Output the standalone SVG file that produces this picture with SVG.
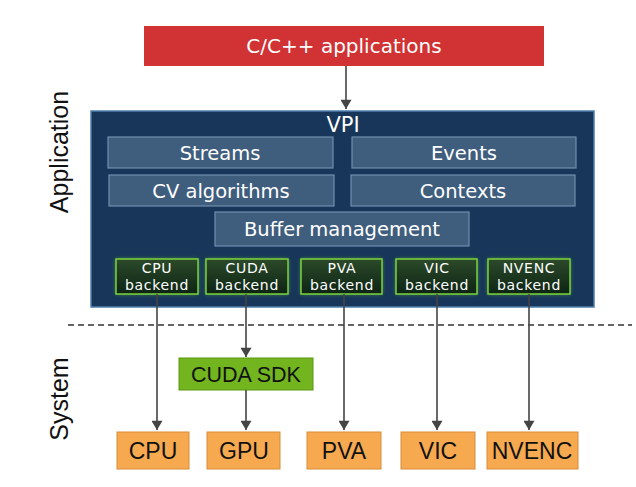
<svg xmlns="http://www.w3.org/2000/svg" width="636" height="487" viewBox="0 0 636 487">
<style>
text{font-family:"Liberation Sans",Arial,sans-serif;text-anchor:middle;dominant-baseline:central}
.dv{font-family:"DejaVu Sans","Liberation Sans",sans-serif}
.mod{fill:#3f5e7e;stroke:#7090b0;stroke-width:1.2}
.mt{fill:#ffffff;font-size:19.5px}
.be{fill:url(#gb);stroke:#7cd23c;stroke-width:1.5}
.bt{fill:#ffffff;font-size:14px;letter-spacing:0.7px}
.hw{fill:#f6a94f;stroke:#d98c3c;stroke-width:1}
.ht{fill:#111;font-size:23px}
.ln{stroke:#444;stroke-width:1.6;fill:none}
.side{fill:#111;font-size:25px}
</style>
<defs>
<linearGradient id="gb" x1="0" y1="0" x2="0" y2="1">
<stop offset="0" stop-color="#2c4a2a"/>
<stop offset="1" stop-color="#0d2414"/>
</linearGradient>
<filter id="glow" x="-20%" y="-30%" width="140%" height="160%">
<feGaussianBlur stdDeviation="2"/>
</filter>
<marker id="ah" viewBox="0 0 10 12" refX="10" refY="6" markerWidth="12" markerHeight="11" markerUnits="userSpaceOnUse" orient="auto">
<path d="M0,0 L10,6 L0,12 z" fill="#444"/>
</marker>
</defs>
<rect width="636" height="487" fill="#ffffff"/>

<g id="apps">
<rect x="144" y="26" width="400" height="40" fill="#d13233"/>
<text class="dv" x="344" y="46" fill="#fff" font-size="20">C/C++ applications</text>
</g>

<text class="side" x="59" y="152" transform="rotate(-90 59 152)">Application</text>
<text class="side" x="59" y="399" transform="rotate(-90 59 399)">System</text>

<g id="vpi">
<rect x="91" y="111" width="503" height="196" fill="#173659" stroke="#4f7fae" stroke-width="1.5"/>
<text class="dv" x="343" y="125" fill="#fff" font-size="21">VPI</text>
</g>
<g id="streams"><rect class="mod" x="108" y="137" width="225" height="31"/><text class="mt dv" x="220" y="153">Streams</text></g>
<g id="events"><rect class="mod" x="352" y="137" width="224" height="31"/><text class="mt dv" x="464" y="153">Events</text></g>
<g id="cv"><rect class="mod" x="109" y="175" width="225" height="31"/><text class="mt dv" x="221" y="191">CV algorithms</text></g>
<g id="contexts"><rect class="mod" x="351" y="175" width="224" height="31"/><text class="mt dv" x="463" y="191">Contexts</text></g>
<g id="buffer"><rect class="mod" x="215" y="212" width="254" height="34"/><text class="mt dv" x="342" y="229">Buffer management</text></g>

<g id="cpu-backend"><rect x="116" y="259" width="82" height="35" fill="#6fd33a" opacity="0.6" filter="url(#glow)"/><rect class="be" x="116" y="259" width="82" height="35"/><text class="bt dv" x="157" y="268">CPU</text><text class="bt dv" x="157" y="285">backend</text></g>
<g id="cuda-backend"><rect x="206" y="259" width="82" height="35" fill="#6fd33a" opacity="0.6" filter="url(#glow)"/><rect class="be" x="206" y="259" width="82" height="35"/><text class="bt dv" x="247" y="268">CUDA</text><text class="bt dv" x="247" y="285">backend</text></g>
<g id="pva-backend"><rect x="301" y="259" width="81" height="35" fill="#6fd33a" opacity="0.6" filter="url(#glow)"/><rect class="be" x="301" y="259" width="81" height="35"/><text class="bt dv" x="342" y="268">PVA</text><text class="bt dv" x="342" y="285">backend</text></g>
<g id="vic-backend"><rect x="396" y="259" width="81" height="35" fill="#6fd33a" opacity="0.6" filter="url(#glow)"/><rect class="be" x="396" y="259" width="81" height="35"/><text class="bt dv" x="437" y="268">VIC</text><text class="bt dv" x="437" y="285">backend</text></g>
<g id="nvenc-backend"><rect x="488" y="259" width="82" height="35" fill="#6fd33a" opacity="0.6" filter="url(#glow)"/><rect class="be" x="488" y="259" width="82" height="35"/><text class="bt dv" x="529" y="268">NVENC</text><text class="bt dv" x="529" y="285">backend</text></g>

<line x1="68" y1="325" x2="632" y2="325" stroke="#333" stroke-width="1.3" stroke-dasharray="6 4"/>

<g id="cuda-sdk"><rect x="179" y="358" width="134" height="32" fill="#72b51f" stroke="#5b9515" stroke-width="1"/><text x="246" y="375" fill="#111" font-size="21.5">CUDA SDK</text></g>

<g id="cpu"><rect class="hw" x="117" y="432" width="72" height="37"/><text class="ht" x="153" y="451">CPU</text></g>
<g id="gpu"><rect class="hw" x="207" y="432" width="73" height="37"/><text class="ht" x="244" y="451">GPU</text></g>
<g id="pva"><rect class="hw" x="307" y="432" width="74" height="37"/><text class="ht" x="344" y="451">PVA</text></g>
<g id="vic"><rect class="hw" x="401" y="432" width="74" height="37"/><text class="ht" x="438" y="451">VIC</text></g>
<g id="nvenc"><rect class="hw" x="487" y="432" width="91" height="37"/><text class="ht" x="532" y="451">NVENC</text></g>

<g id="connectors">
<line class="ln" x1="346" y1="66" x2="346" y2="109" marker-end="url(#ah)"/>
<line class="ln" x1="157" y1="294" x2="157" y2="430" marker-end="url(#ah)"/>
<line class="ln" x1="246" y1="294" x2="246" y2="357" marker-end="url(#ah)"/>
<line class="ln" x1="246" y1="390" x2="246" y2="430" marker-end="url(#ah)"/>
<line class="ln" x1="344" y1="294" x2="344" y2="430" marker-end="url(#ah)"/>
<line class="ln" x1="437" y1="294" x2="437" y2="430" marker-end="url(#ah)"/>
<line class="ln" x1="529" y1="294" x2="529" y2="430" marker-end="url(#ah)"/>
</g>
</svg>
